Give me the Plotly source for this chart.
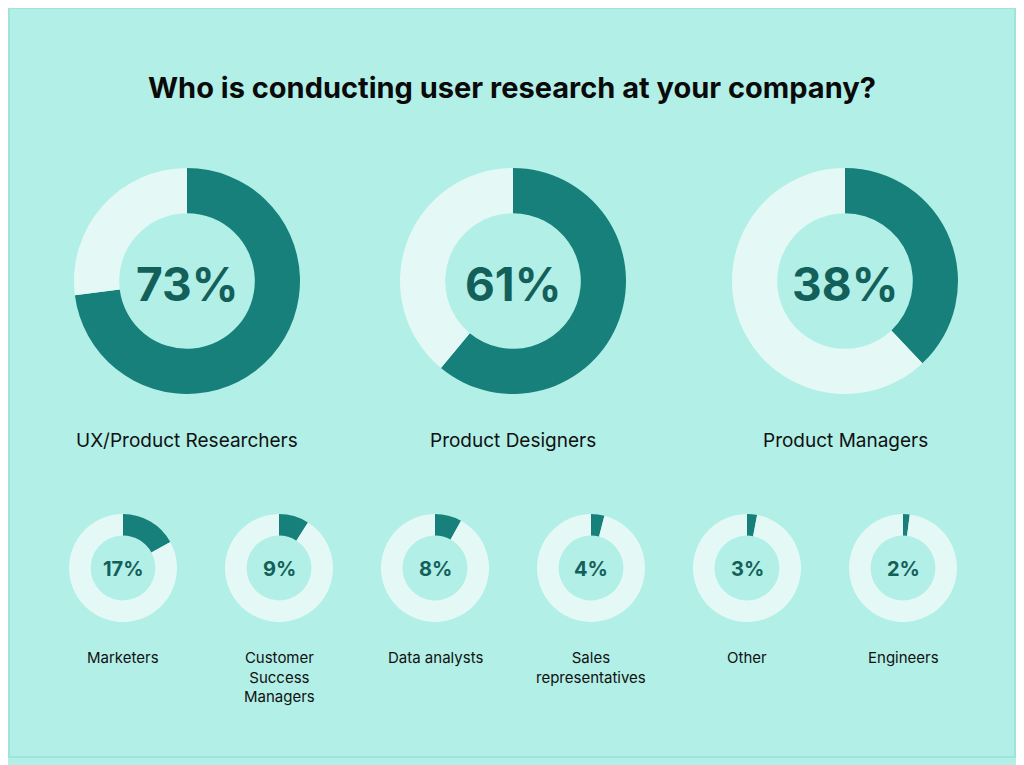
import plotly.graph_objects as go

big_labels = ["UX/Product Researchers", "Product Designers", "Product Managers"]
big_values = [73, 61, 38]
small_labels = ["Marketers", "Customer<br>Success<br>Managers", "Data analysts",
                "Sales<br>representatives", "Other", "Engineers"]
small_values = [17, 9, 8, 4, 3, 2]

W, H = 1024, 765
OFF = 8  # page body margin
DARK = "#17807a"
LIGHT = "#e4f9f6"
TXT = "#135f5a"

fig = go.Figure()

def px(x):
    return (x - OFF) / W

def py(y):
    return 1 - (y - OFF) / H

def add_donut(cx, cy, r, v, hole):
    fig.add_trace(go.Pie(
        values=[v, 100 - v], sort=False, direction="clockwise", rotation=0,
        hole=hole, marker=dict(colors=[DARK, LIGHT], line=dict(width=0)),
        textinfo="none", hoverinfo="skip", showlegend=False,
        domain=dict(x=[px(cx - r), px(cx + r)], y=[py(cy + r), py(cy - r)])))

def ann(x, y, text, size, color, yanchor="middle"):
    fig.add_annotation(x=px(x), y=py(y), text=text, showarrow=False, xanchor="center",
                       yanchor=yanchor, font=dict(size=size, color=color, family="Inter"),
                       xref="paper", yref="paper")

big_x = [187, 513, 845]
for cx, v, lab in zip(big_x, big_values, big_labels):
    add_donut(cx, 281, 113, v, 0.6)
    ann(cx, 284, f"<b>{v}%</b>", 46, TXT)
    ann(cx, 440, lab, 19, "#111")

small_x = [123, 279, 435, 591, 747, 903]
for cx, v, lab in zip(small_x, small_values, small_labels):
    add_donut(cx, 568, 54, v, 0.6)
    ann(cx, 569, f"<b>{v}%</b>", 20, TXT)
    ann(cx, 646, lab, 15, "#111", yanchor="top")

ann(512, 88, "<b>Who is conducting user research at your company?</b>", 29, "#0a0a0a")

fig.add_shape(type="rect", xref="paper", yref="paper", x0=px(9), x1=px(1015), y0=py(757), y1=py(8),
              line=dict(color="#9fe3da", width=2), fillcolor="rgba(0,0,0,0)", layer="below")

fig.update_layout(width=W, height=H, margin=dict(l=0, r=0, t=0, b=0),
                  paper_bgcolor="#b2efe7", plot_bgcolor="#b2efe7")
fig.write_html("out.html")
